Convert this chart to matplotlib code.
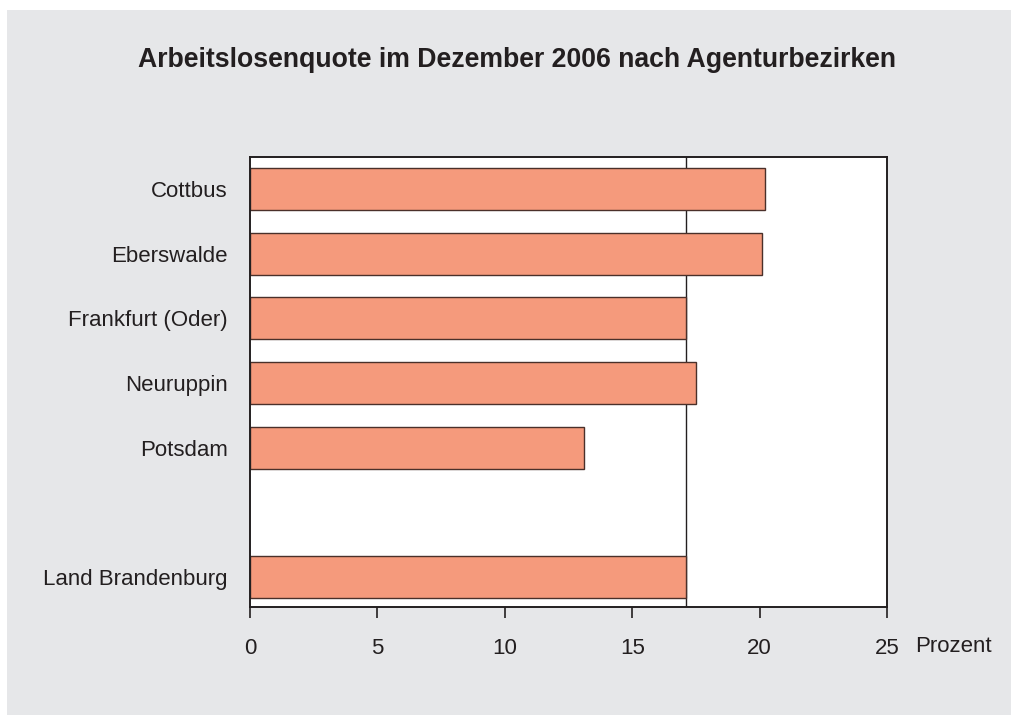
import matplotlib.pyplot as plt
from matplotlib.patches import Rectangle

# Daten
bezirke = ['Cottbus', 'Eberswalde', 'Frankfurt (Oder)', 'Neuruppin', 'Potsdam', 'Land Brandenburg']
quote = [20.2, 20.1, 17.1, 17.5, 13.1, 17.1]
positionen = [0, 1, 2, 3, 4, 6]
land_wert = 17.1
xticks = [0, 5, 10, 15, 20, 25]

plt.rcParams['font.family'] = ['Liberation Sans', 'DejaVu Sans']

fig = plt.figure(figsize=(10.12, 7.15), dpi=100)
fig.patch.set_facecolor('white')
# grauer Hintergrundkasten
fig.patches.append(Rectangle((7 / 1012, 0), 1 - 7 / 1012, 1 - 10 / 715,
                             transform=fig.transFigure, facecolor='#e6e7e9',
                             edgecolor='none', zorder=-10))

ax = fig.add_axes([250 / 1012, 1 - 607 / 715, 637 / 1012, 450 / 715])
ax.set_facecolor('white')

ax.axvline(land_wert, color='#231f20', linewidth=1.0, zorder=1)
ax.barh(positionen, quote, height=0.65, color='#f59a7c', edgecolor='#4a302a',
        linewidth=1.0, zorder=2)

ax.set_xlim(0, 25)
ax.set_ylim(6.46, -0.495)
ax.set_yticks(positionen)
ax.set_yticklabels(bezirke, fontsize=16, color='#231f20')
ax.tick_params(axis='y', length=0, pad=16)
ax.set_xticks(xticks)
ax.set_xticklabels([str(t) for t in xticks], fontsize=16, color='#231f20')
ax.tick_params(axis='x', direction='out', length=8, width=1.2, pad=14, color='#231f20')

for s in ax.spines.values():
    s.set_linewidth(1.4)
    s.set_color('#231f20')

fig.text(915 / 1012, 1 - 647 / 715, 'Prozent', fontsize=16, color='#231f20',
         ha='left', va='center')
fig.text(517 / 1012, 1 - 60 / 715, 'Arbeitslosenquote im Dezember 2006 nach Agenturbezirken',
         fontsize=19.2, fontweight='bold', color='#231f20', ha='center', va='center')

fig.savefig('out.png', dpi=100)
